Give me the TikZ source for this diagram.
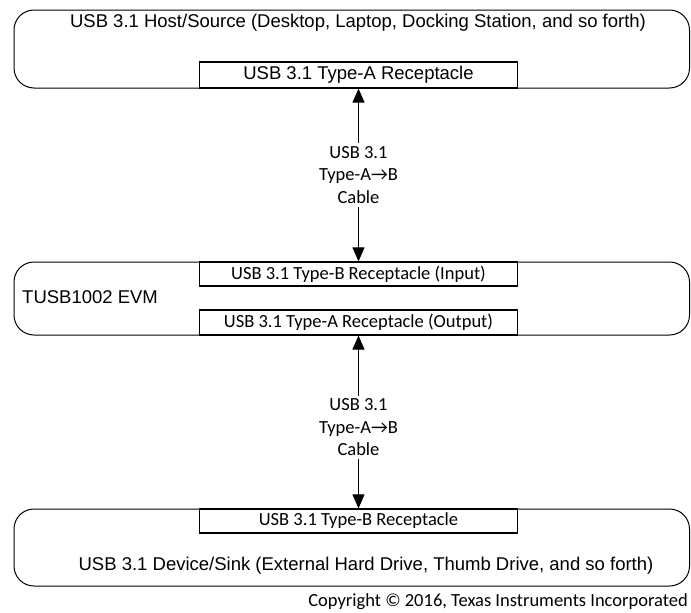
\documentclass[tikz,border=0pt]{standalone}
\usepackage{fontspec}
\setmainfont{Liberation Sans}
\newfontfamily\calfont{Carlito}
\usetikzlibrary{arrows.meta}
\begin{document}
\begin{tikzpicture}[x=1pt,y=-1pt,
  txt/.style={font=\fontsize{18.5}{22.5}\selectfont, inner sep=0pt},
  ctxt/.style={font=\calfont\fontsize{18.5}{22.5}\selectfont, inner sep=0pt},
  bigbox/.style={draw, rounded corners=20pt, line width=1pt, inner sep=0pt},
  recbox/.style={draw, line width=1.2pt, fill=white, minimum width=318pt, inner sep=0pt},
  cable/.style={line width=1pt, {Triangle[length=14pt,width=12pt]}-{Triangle[length=14pt,width=12pt]}},
  cablelabel/.style={ctxt, align=center, fill=white, inner ysep=3pt}
]
\useasboundingbox (0,0) rectangle (691,613);
% big boxes
\node[bigbox, minimum width=675.5pt, minimum height=78pt] (host) at (351.75,49) {};
\node[bigbox, minimum width=675.5pt, minimum height=73pt] (evm) at (351.75,298.5) {};
\node[bigbox, minimum width=675.5pt, minimum height=77pt] (dev) at (351.75,547.5) {};
% receptacles
\node[recbox, txt, minimum height=26pt] (hostA) at (358.5,75) {USB 3.1 Type-A Receptacle};
\node[recbox, ctxt, minimum height=24pt] (evmB) at (358.5,274) {USB 3.1 Type-B Receptacle (Input)};
\node[recbox, ctxt, minimum height=25pt] (evmA) at (358.5,322.5) {USB 3.1 Type-A Receptacle (Output)};
\node[recbox, ctxt, minimum height=24pt] (devB) at (358.5,521) {USB 3.1 Type-B Receptacle};
% texts
\node[txt] (hosttitle) at (358,23) {USB 3.1 Host/Source (Desktop, Laptop, Docking Station, and so forth)};
\node[txt, anchor=west] (evmtitle) at (22,297) {TUSB1002 EVM};
\node[txt] (devtitle) at (366,566) {USB 3.1 Device/Sink (External Hard Drive, Thumb Drive, and so forth)};
\node[ctxt, anchor=east] (copy) at (688,602) {Copyright © 2016, Texas Instruments Incorporated};
% cables
\draw[cable] (hostA.south) -- (evmB.north) node[cablelabel, pos=0.5] (cable1) {USB 3.1\\Type-A→B\\Cable};
\draw[cable] (evmA.south) -- (devB.north) node[cablelabel, pos=0.53] (cable2) {USB 3.1\\Type-A→B\\Cable};
\end{tikzpicture}
\end{document}
